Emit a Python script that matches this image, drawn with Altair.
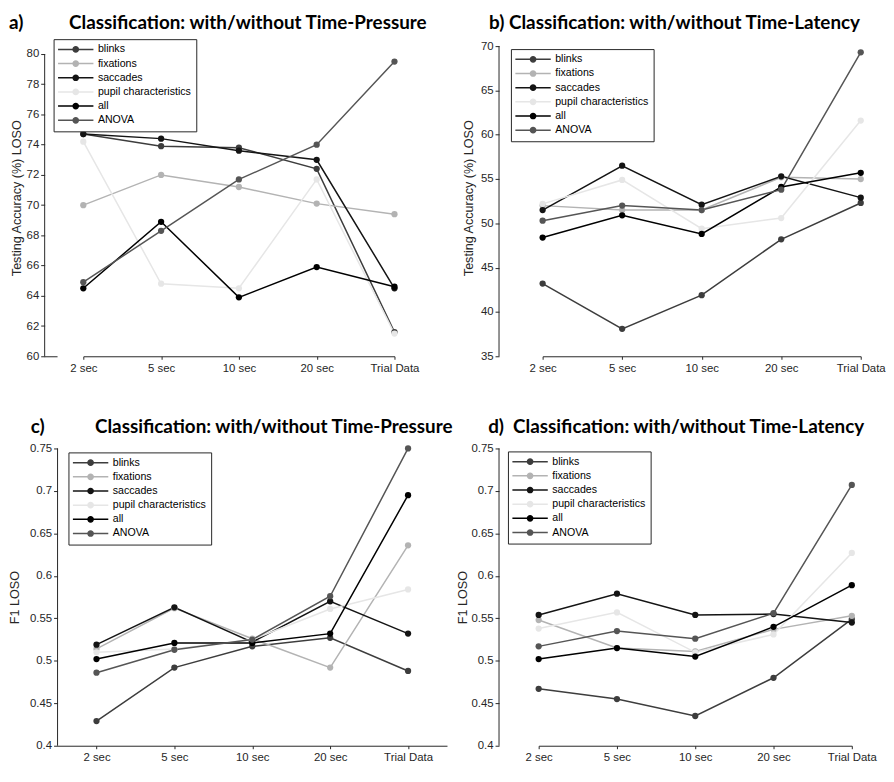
import altair as alt
import pandas as pd

categories = ["2 sec", "5 sec", "10 sec", "20 sec", "Trial Data"]
series = ["blinks", "fixations", "saccades", "pupil characteristics", "all", "ANOVA"]
series_colors = ["#3d3d3d", "#b3b3b3", "#141414", "#e6e6e6", "#000000", "#555555"]

# a) accuracy, time-pressure
a_blinks = [74.7, 73.9, 73.8, 72.4, 61.6]
a_fixations = [70.0, 72.0, 71.2, 70.1, 69.4]
a_saccades = [74.7, 74.4, 73.6, 73.0, 64.5]
a_pupil = [74.2, 64.8, 64.5, 71.7, 61.5]
a_all = [64.5, 68.9, 63.9, 65.9, 64.6]
a_anova = [64.9, 68.3, 71.7, 74.0, 79.5]

# b) accuracy, time-latency
b_blinks = [43.2, 38.1, 41.9, 48.2, 52.3]
b_fixations = [52.0, 51.5, 51.5, 55.2, 55.0]
b_saccades = [51.5, 56.5, 52.1, 55.3, 52.9]
b_pupil = [52.2, 54.9, 49.4, 50.6, 61.6]
b_all = [48.4, 50.9, 48.8, 54.1, 55.7]
b_anova = [50.3, 52.0, 51.5, 53.8, 69.3]

# c) F1, time-pressure
c_blinks = [0.429, 0.492, 0.517, 0.527, 0.488]
c_fixations = [0.514, 0.562, 0.526, 0.492, 0.636]
c_saccades = [0.519, 0.563, 0.522, 0.570, 0.532]
c_pupil = [0.510, 0.514, 0.525, 0.561, 0.584]
c_all = [0.502, 0.521, 0.521, 0.532, 0.695]
c_anova = [0.486, 0.513, 0.525, 0.576, 0.750]

# d) F1, time-latency
d_blinks = [0.467, 0.455, 0.435, 0.480, 0.549]
d_fixations = [0.548, 0.515, 0.511, 0.537, 0.553]
d_saccades = [0.554, 0.579, 0.554, 0.555, 0.545]
d_pupil = [0.538, 0.557, 0.510, 0.531, 0.627]
d_all = [0.502, 0.515, 0.505, 0.540, 0.589]
d_anova = [0.517, 0.535, 0.526, 0.556, 0.707]

acc_ticks_a = [60, 62, 64, 66, 68, 70, 72, 74, 76, 78, 80]
acc_ticks_b = [35, 40, 45, 50, 55, 60, 65, 70]
f1_ticks = [0.4, 0.45, 0.5, 0.55, 0.6, 0.65, 0.7, 0.75]

NB = "\u00a0"
title_a = "a)" + NB * 10 + "Classification: with/without Time-Pressure"
title_b = "b) Classification: with/without Time-Latency"
title_c = "c)" + NB * 11 + "Classification: with/without Time-Pressure"
title_d = "d)" + NB * 2 + "Classification: with/without Time-Latency"


def make_df(cols):
    rows = []
    for s, vals in zip(series, cols):
        for c, v in zip(categories, vals):
            rows.append({"window": c, "features": s, "value": v})
    return pd.DataFrame(rows)


legend_path = "M-5.1,0L5.1,0M0.75,0A0.75,0.75,0,1,1,-0.75,0A0.75,0.75,0,1,1,0.75,0Z"
AX = "#262626"


def panel(df, title_text, title_dx, ytitle, ydomain, yticks, yfmt, width, height,
          xrange, legx, legy, ytp, yext, toff, yoff=0):
    if xrange is None:
        xscale = alt.Scale(type="point", padding=0.5)
    else:
        xscale = alt.Scale(type="point", range=xrange, padding=0)
    x = alt.X("window:N", sort=categories, scale=xscale,
              axis=alt.Axis(title=None, labelAngle=0, tickSize=3, labelPadding=3))
    yscale = alt.Scale(domain=ydomain, nice=False, zero=False)
    yaxis = alt.Axis(title=ytitle, values=yticks, format=yfmt, tickSize=4,
                     labelPadding=2, titlePadding=ytp, domain=False, offset=yoff,
                     labelOverlap=False, minExtent=yext, maxExtent=yext)
    y = alt.Y("value:Q", scale=yscale, axis=yaxis, title=ytitle)
    color = alt.Color(
        "features:N", sort=series,
        scale=alt.Scale(domain=series, range=series_colors),
        legend=alt.Legend(
            title=None, orient="none", legendX=legx, legendY=legy,
            symbolType=legend_path, symbolSize=49, symbolStrokeWidth=1.5,
            symbolOffset=12, labelOffset=17, padding=5, rowPadding=2.3,
            labelFont="Liberation Sans", labelFontSize=10.7, labelColor="#000000",
            strokeColor=AX, fillColor="#ffffff",
        ),
    )
    axis_df = pd.DataFrame({"lo": [yticks[0]], "hi": [yticks[-1]]})
    layers = []
    layers.append(alt.Chart(df).mark_line(strokeWidth=1.5).encode(x=x, y=y, color=color))
    layers.append(alt.Chart(df).mark_point(filled=True, size=40, opacity=1).encode(
        x=x, y=y, color=color))
    # y axis line, from the lowest to the highest tick only
    layers.append(alt.Chart(axis_df).mark_rule(color=AX, strokeWidth=1).encode(
        x=alt.value(-yoff), y=alt.Y("lo:Q", scale=yscale, axis=yaxis, title=ytitle),
        y2="hi:Q"))
    if yoff:
        # continue the x axis line left to the displaced y axis
        layers.append(alt.Chart(axis_df).mark_rule(color=AX, strokeWidth=1).encode(
            x=alt.value(-yoff), x2=alt.value(0), y=alt.value(height + 0.5)))
    return alt.layer(*layers).properties(
        width=width, height=height,
        title=alt.TitleParams(text=title_text, anchor="start", frame="group", dx=title_dx,
                              font="Lato", fontSize=19, fontWeight="bold", color="#000000",
                              offset=toff),
    )


# a) and b) plot areas start a little above the top tick to host the legend
pa = panel(make_df([a_blinks, a_fixations, a_saccades, a_pupil, a_all, a_anova]),
           title_a, -49, "Testing Accuracy (%) LOSO", [60, 80.98], acc_ticks_a, "d",
           379, 320, [26, 340], -4, 0, 2.5, 19, 6, yoff=13)
pb = panel(make_df([b_blinks, b_fixations, b_saccades, b_pupil, b_all, b_anova]),
           title_b, -10, "Testing Accuracy (%) LOSO", [35, 70.78], acc_ticks_b, "d",
           388, 320, [44, 365], 12, 10, 5, 19, 6)
pc = panel(make_df([c_blinks, c_fixations, c_saccades, c_pupil, c_all, c_anova]),
           title_c, -27, "F1 LOSO", [0.4, 0.75], f1_ticks, ".2~f",
           393, 300, None, 11, 4, 6.3, 30, 5.5)
pd_ = panel(make_df([d_blinks, d_fixations, d_saccades, d_pupil, d_all, d_anova]),
            title_d, -11, "F1 LOSO", [0.4, 0.75], f1_ticks, ".2~f",
            388, 300, [40, 356], 9, 3, 0, 30, 5.5)

chart = alt.concat(
    pa, pb, pc, pd_, columns=2, spacing={"row": 44, "column": 2.5}
).resolve_legend(color="independent").properties(
    padding={"left": 0, "top": 2, "right": 0, "bottom": 0}
).configure(background="#ffffff").configure_view(stroke=None).configure_axis(
    grid=False, labelFont="Liberation Sans", labelFontSize=11.5, labelColor=AX,
    titleFont="Liberation Sans", titleFontSize=12.7, titleFontWeight="normal",
    titleColor=AX, domainColor=AX, tickColor=AX, domainWidth=1, tickWidth=1,
    labelOverlap=False,
)

chart.save("out.html", embed_options={"renderer": "svg", "actions": False})
